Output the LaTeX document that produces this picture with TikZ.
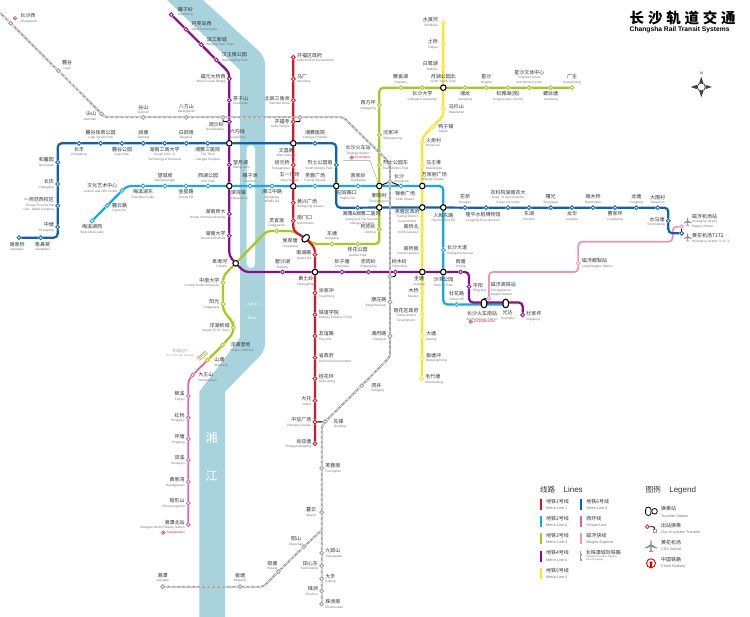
\documentclass[tikz,border=0pt]{standalone}
\usepackage{fontspec}
\setmainfont{Liberation Sans}
\newfontfamily\cjkfont{Noto Sans CJK SC}
\usetikzlibrary{positioning}
\definecolor{lineone}{HTML}{D9142B}
\definecolor{linetwo}{HTML}{14A9E2}
\definecolor{linethree}{HTML}{A6C91A}
\definecolor{linefour}{HTML}{8C0C8C}
\definecolor{linefive}{HTML}{F8E820}
\definecolor{linesix}{HTML}{0C62AE}
\definecolor{linexi}{HTML}{DB6A90}
\definecolor{linemag}{HTML}{EE96B6}
\definecolor{linerail}{HTML}{9C9C9C}
\definecolor{river}{HTML}{A8D3DD}
\definecolor{railred}{HTML}{E0305A}
\definecolor{inktext}{HTML}{333333}
\definecolor{engtext}{HTML}{777777}
\newcommand{\lbl}[2]{{\cjkfont\fontsize{5}{4.5}\selectfont\color{inktext}#1}\\#2}
\newcommand{\leg}[2]{{\cjkfont\fontsize{5}{6.3}\selectfont\color{inktext}#1}\\#2}
\pgfdeclarelayer{water}
\pgfdeclarelayer{tracks}
\pgfsetlayers{water,tracks,main}
\tikzset{
  plane/.pic={\fill[linerail!90!black] (0,-4.2) -- (.5,-3.2) -- (.5,-1) -- (4,1) -- (4,1.7) -- (.5,.7) -- (.4,3) -- (1.5,3.8) -- (1.5,4.2) -- (0,3.8) -- (-1.5,4.2) -- (-1.5,3.8) -- (-.4,3) -- (-.5,.7) -- (-4,1.7) -- (-4,1) -- (-.5,-1) -- (-.5,-3.2) -- cycle;}
}
\begin{document}
\begin{tikzpicture}[
  x=1pt,y=-1pt,
  node distance=1.2pt,
  stop/.style={circle,fill=white,inner sep=0pt,minimum size=3.8pt,line width=.9pt},
  stopone/.style={stop,draw=lineone},
  stoptwo/.style={stop,draw=linetwo},
  stopthree/.style={stop,draw=linethree},
  stopfour/.style={stop,draw=linefour},
  stopfive/.style={stop,draw=linefive},
  stopsix/.style={stop,draw=linesix},
  stopxi/.style={stop,draw=linexi},
  stopmag/.style={stop,draw=linemag},
  stoprail/.style={stop,draw=linerail},
  hub/.style={stop,draw=black,minimum size=5.6pt,line width=1.1pt},
  pill/.style={draw=black,fill=white,line width=1.1pt,rounded corners=2.6pt,inner sep=0pt,minimum width=5.4pt,minimum height=8.4pt},
  tag/.style={inner sep=0pt,text=engtext,font=\rmfamily\fontsize{3.2}{4.5}\selectfont},
  tagr/.style={tag,align=left},
  tagl/.style={tag,align=right},
  tagc/.style={tag,align=center},
  tagleg/.style={tag,align=left,font=\rmfamily\fontsize{3.8}{6.3}\selectfont},
  track/.style={line width=2.2pt,rounded corners=4pt},
  trackone/.style={track,draw=lineone},
  tracktwo/.style={track,draw=linetwo},
  trackthree/.style={track,draw=linethree},
  trackfour/.style={track,draw=linefour},
  trackfive/.style={track,draw=linefive},
  tracksix/.style={track,draw=linesix},
  trackxi/.style={track,line width=1.8pt,draw=linexi},
  trackmag/.style={track,line width=1.8pt,draw=linemag},
  trackrail/.style={draw=linerail,line width=1.9pt,rounded corners=2pt,postaction={draw=white,line width=.6pt,dash pattern=on 3pt off 2pt}},
  link/.style={draw=black,line width=.9pt,rounded corners=1pt},
  railmark/.style={circle,draw=railred,line width=.5pt,fill=white,minimum size=3.6pt,inner sep=0pt,path picture={\fill[railred] (path picture bounding box.center) circle (.7pt);}},
  railtext/.style={inner sep=0pt,font=\rmfamily\fontsize{3.4}{4}\selectfont,text=railred},
  legbar/.style={inner sep=0pt,minimum width=2.2pt,minimum height=11pt},
  headtext/.style={inner sep=0pt,anchor=west,text=inktext,font=\cjkfont\fontsize{7.5}{8}\selectfont}
]
\useasboundingbox (0,0) rectangle (750,617);

% river
\begin{pgfonlayer}{water}
\fill[white] (0,0) rectangle (750,617);
\fill[river] (167,0) -- (240,70) -- (240,338) -- (199.3,391.7) -- (199.3,617) -- (225,617) -- (225,391.7) -- (260,356) .. controls (263,352) and (265,348) .. (265,343) -- (265,65) .. controls (265,55) and (258,50) .. (250,43) -- (203,0) -- cycle;
\fill[white,rounded corners=4pt] (246.7,145) rectangle (255,268);
\end{pgfonlayer}
\node[inner sep=0pt,text=white,font=\cjkfont\fontsize{12}{12}\selectfont] (xiang) at (211.7,438) {湘};
\node[inner sep=0pt,text=white,font=\cjkfont\fontsize{12}{12}\selectfont] (jiang) at (211.7,476) {江};
\node[inner sep=0pt,text=white,font=\rmfamily\fontsize{3.6}{4}\selectfont] (xiangen) at (252,305) {Xiang};
\node[inner sep=0pt,text=white,font=\rmfamily\fontsize{3.6}{4}\selectfont] (jiangen) at (252,318) {River};

% title
\node[anchor=west,inner sep=0pt,font=\cjkfont\bfseries\fontsize{14.5}{15}\selectfont] (title) at (629.5,17.5) {长\hspace{3.8pt}沙\hspace{3.8pt}轨\hspace{3.8pt}道\hspace{3.8pt}交\hspace{3.8pt}通};
\node[anchor=west,inner sep=0pt,font=\rmfamily\bfseries\fontsize{6.7}{7}\selectfont] (titleen) at (629.5,30) {Changsha Rail Transit Systems};

% compass
\node[circle,draw=black,fill=white,line width=.5pt,minimum size=8pt,inner sep=0pt] (compass) at (701.3,87) {};
\fill[black!75] (701.3,76.7) -- (703.4,83) -- (699.2,83) -- cycle;
\fill[black!75] (701.3,97.3) -- (703.4,91) -- (699.2,91) -- cycle;
\fill[black!75] (690.7,87) -- (697,84.9) -- (697,89.1) -- cycle;
\fill[black!75] (712,87) -- (705.6,84.9) -- (705.6,89.1) -- cycle;
\node[inner sep=0pt,font=\rmfamily\fontsize{3.6}{4}\selectfont] (north) at (701.3,73.5) {N};

% line 1
\node[stopone] (kaifuzf) at (293.3,57.3) {};
\node[tagr,right=of kaifuzf] (kaifuzft) {\lbl{开福区政府}{Kaifu District Government}};
\node[stopone] (machang) at (293.3,79) {};
\node[tagr,right=of machang] (machangt) {\lbl{马厂}{Machang}};
\node[stopone] (beichen) at (293.3,100.3) {};
\node[tagl,left=of beichen] (beichent) {\lbl{北辰三角洲}{Beichen Delta}};
\node[stopone] (kaifusi) at (293.3,121.7) {};
\node[tagl,left=of kaifusi,yshift=-2pt] (kaifusit) {\lbl{开福寺}{Kaifu Temple}};
\node[hub] (wenchang) at (293.3,143.3) {};
\node[tagc,below left=2pt and -5pt of wenchang] (wenchangt) {\lbl{文昌阁}{Wenchangge}};
\node[stopone] (peiyuan) at (293.3,165) {};
\node[tagl,left=of peiyuan] (peiyuant) {\lbl{培元桥}{Peiyuanqiao}};
\node[hub] (wuyi) at (293.3,186.3) {};
\node[tagc,above left=2pt and -9pt of wuyi] (wuyit) {\lbl{五一广场}{Wuyi Square}};
\node[stopone] (huangxing) at (293.3,202.7) {};
\node[tagr,right=of huangxing,yshift=-1pt] (huangxingt) {\lbl{黄兴广场}{Huangxing Square}};
\node[stopone] (nanmen) at (293.3,220.7) {};
\node[tagr,right=of nanmen,yshift=1pt] (nanment) {\lbl{南门口}{Nanmenkou}};
\node[pill,rotate=-45] (houjia) at (305.7,238.3) {};
\node[tagc,below left=-1pt and 2pt of houjia] (houjiat) {\lbl{侯家塘}{Houjiatang}};
\coordinate (onea) at (293.3,231);
\coordinate (oneb) at (315,248);
\node[stopone] (nanhu) at (315,254.7) {};
\node[tagl,left=of nanhu] (nanhut) {\lbl{南湖路}{Nanhu Rd}};
\node[hub] (huangtu) at (315,272) {};
\node[tagc,below left=2pt and -2pt of huangtu] (huangtut) {\lbl{黄土岭}{Huangtuling}};
\node[stopone] (tujia) at (315,293) {};
\node[tagr,right=of tujia] (tujiat) {\lbl{涂家冲}{Tujiachong}};
\node[stopone] (tiedao) at (315,314.7) {};
\node[tagr,right=of tiedao] (tiedaot) {\lbl{铁道学院}{Railway Campus (CSU)}};
\node[stopone] (youyi) at (315,336) {};
\node[tagr,right=of youyi] (youyit) {\lbl{友谊路}{Youyi Rd}};
\node[stopone] (shengzf) at (315,357.7) {};
\node[tagr,right=of shengzf] (shengzft) {\lbl{省政府}{Provincial Government}};
\node[stopone] (guihuap) at (315,378.5) {};
\node[tagr,right=of guihuap] (guihuapt) {\lbl{桂花坪}{Guihuaping}};
\node[stopone] (datuo) at (315,400.7) {};
\node[tagl,left=of datuo] (datuot) {\lbl{大托}{Datuo}};
\node[stopone] (zhongxin) at (315,422) {};
\node[tagl,left=of zhongxin] (zhongxint) {\lbl{中信广场}{Zhongxin Square}};
\node[stopone] (shangshuang) at (315,443.7) {};
\node[tagl,left=of shangshuang] (shangshuangt) {\lbl{尚双塘}{Shangshuangtang}};

% line 2
\node[stoptwo] (meixix) at (92,221) {};
\node[tagc,below=of meixix] (meixixt) {\lbl{梅溪湖西}{West Meixi Lake}};
\node[stoptwo] (luyun) at (107,205.7) {};
\node[tagr,right=2.5pt of luyun,yshift=-2pt] (luyunt) {\lbl{麓云路}{Luyun Rd}};
\node[stoptwo] (wenyi) at (122,190.7) {};
\node[tagl,left=2pt of wenyi,yshift=3pt] (wenyit) {\lbl{文化艺术中心}{Culture and Arts Center}};
\coordinate (twoa) at (127,186);
\node[stoptwo] (meixid) at (143,186) {};
\node[tagc,below=of meixid] (meixidt) {\lbl{梅溪湖东}{East Meixi Lake}};
\node[stoptwo] (wangcheng) at (165,186) {};
\node[tagc,above=of wangcheng] (wangchengt) {\lbl{望城坡}{Wangchengpo}};
\node[stoptwo] (jinxing) at (186,186) {};
\node[tagc,below=of jinxing] (jinxingt) {\lbl{金星路}{Jinxing Rd}};
\node[stoptwo] (xihu) at (208,186) {};
\node[tagc,above=of xihu] (xihut) {\lbl{西湖公园}{Xihu Park}};
\node[hub] (yingwan) at (229.3,186) {};
\node[tagc,below right=2pt and -3pt of yingwan] (yingwant) {\lbl{溁湾镇}{Yingwanzhen}};
\node[stoptwo] (juzi) at (250,186) {};
\node[tagc,above=of juzi] (juzit) {\lbl{橘子洲}{Juzizhou}};
\node[stoptwo] (xiangzhong) at (272,186) {};
\node[tagc,below=of xiangzhong] (xiangzhongt) {\lbl{湘江中路}{Xiangjiang\\Middle Rd}};
\node[stoptwo] (furong) at (315,186) {};
\node[tagc,above=of furong] (furongt) {\lbl{芙蓉广场}{Furong Square}};
\node[hub] (yingbin) at (336.3,186) {};
\node[tagc,below right=2pt and -2pt of yingbin] (yingbint) {\lbl{迎宾路口}{Yingbin Rd}};
\node[stoptwo] (yuanjia) at (358,186) {};
\node[tagc,above=of yuanjia] (yuanjiat) {\lbl{袁家岭}{Yuanjialing}};
\node[hub] (railst) at (379.3,186) {};
\node[tagc] (railstt) at (358,150) {\lbl{长沙火车站}{Railway Station}};
\node[railmark] (railstm) at (351.7,157.5) {};
\node[railtext,right=1pt of railstm] (railstn) {Changsha};
\coordinate (leadera) at (343.3,160.7);
\coordinate (leaderb) at (370,160.7);
\node[stoptwo] (jintai) at (401,186) {};
\node[tagc,below=3pt of jintai,xshift=4pt] (jintait) {\lbl{锦泰广场}{Jintai Square}};
\node[hub] (wanjia) at (422.3,186) {};
\node[tagr,above right=2pt and -3pt of wanjia] (wanjiat) {\lbl{万家丽广场}{Wanjiali Square}};
\coordinate (twob) at (443.3,186);
\node[hub] (renmin) at (443.3,207.5) {};
\node[tagc,below=2pt of renmin] (renmint) {\lbl{人民东路}{Renmin East Rd}};
\node[stoptwo] (csdadao) at (443.3,250) {};
\node[tagr,right=of csdadao] (csdadaot) {\lbl{长沙大道}{Changsha Avenue}};
\node[hub] (shawan) at (443.3,272) {};
\node[tagc,below=2pt of shawan] (shawant) {\lbl{沙湾公园}{Shawan Park}};
\coordinate (twoc) at (443.3,304.5);
\node[stoptwo] (duhua) at (456.7,304.5) {};
\node[tagc,above=1.5pt of duhua] (duhuat) {\lbl{杜花路}{Duhua Rd}};
\node[pill] (changnan) at (484,303.5) {};
\node[tagc,below=3pt of changnan,xshift=-2pt] (changnant) {\lbl{长沙火车南站}{South Railway Station}};
\node[railmark] (changnanm) at (470.7,321.7) {};
\node[railtext,right=1pt of changnanm] (changnann) {Changshanan};
\node[pill] (guangda) at (505.7,303.5) {};
\node[tagc,below=2pt of guangda,xshift=2pt] (guangdat) {\lbl{光达}{Guangda}};

% line 3
\node[stopthree] (shantang) at (207.7,360) {};
\node[tagr,right=4pt of shantang,yshift=-2pt] (shantangt) {\lbl{山塘}{Shantang}};
\node[stopthree] (yanghusd) at (222.7,345) {};
\node[tagr,right=5pt of yanghusd,yshift=-2pt] (yanghusdt) {\lbl{洋湖湿地}{Yanghu Wetland}};
\coordinate (threea) at (233.3,333);
\node[stopthree] (yanghuxc) at (233.3,327.7) {};
\node[tagl,left=of yanghuxc] (yanghuxct) {\lbl{洋湖新城}{Yanghu ECO. Town}};
\coordinate (threeb) at (233.3,323.3);
\coordinate (threec) at (223,310);
\node[stopthree] (yangguang) at (223,304) {};
\node[tagl,left=of yangguang] (yangguangt) {\lbl{阳光}{Yangguang}};
\node[stopthree] (zhongnan) at (223,282.7) {};
\node[tagl,left=of zhongnan] (zhongnant) {\lbl{中南大学}{Central South University}};
\coordinate (threed) at (223.3,276);
\node[hub] (fubu) at (235.7,263.3) {};
\node[tagl,left=5pt of fubu] (fubut) {\lbl{阜埠河}{Fubuhe}};
\coordinate (threee) at (266.7,231);
\node[stopthree] (lingguan) at (276.7,231) {};
\node[tagc,above=of lingguan] (lingguant) {\lbl{灵官渡}{Lingguandu}};
\coordinate (threef) at (313,244);
\node[stopthree] (dongtang) at (332,244) {};
\node[tagc,above=of dongtang] (dongtangt) {\lbl{东塘}{Dongtang}};
\node[stopthree] (guihuagy) at (357.7,244) {};
\node[tagc,below=of guihuagy] (guihuagyt) {\lbl{桂花公园}{Guihua Park}};
\coordinate (threeg) at (379.3,244);
\node[stopthree] (amiling) at (379.3,229.3) {};
\node[tagl,left=of amiling] (amilingt) {\lbl{阿弥岭}{Amiling}};
\node[hub] (chaoyang) at (379.3,207.5) {};
\node[tagc,above=of chaoyang] (chaoyangt) {\lbl{朝阳村}{Chaoyangcun}};
\node[stopthree] (liedong) at (379.3,165) {};
\node[tagr,right=of liedong] (liedongt) {\lbl{烈士公园东}{East Martyrs Park}};
\node[stopthree] (shenjia) at (379.3,135) {};
\node[tagr,right=of shenjia] (shenjiat) {\lbl{沈家冲}{Shenjiachong}};
\node[stopthree] (xifang) at (379.3,105) {};
\node[tagl,left=of xifang] (xifangt) {\lbl{西方坪}{Xifangping}};
\coordinate (threeh) at (379.3,87.7);
\node[stopthree] (yaque) at (400.7,87.7) {};
\node[tagc,above=of yaque] (yaquet) {\lbl{雅雀湖}{Yaquehu}};
\node[stopthree] (csdaxue) at (422.3,87.7) {};
\node[tagc,below=of csdaxue] (csdaxuet) {\lbl{长沙大学}{Changsha University}};
\node[hub] (yuehu) at (443.3,87.7) {};
\node[tagc,above=of yuehu] (yuehut) {\lbl{月湖公园北}{North Yuehu Park}};
\node[stopthree] (xianglong) at (465,87.7) {};
\node[tagc,below=of xianglong] (xianglongt) {\lbl{湘龙}{Xianglong}};
\node[stopthree] (xingsha) at (486.3,87.7) {};
\node[tagc,above=of xingsha] (xingshat) {\lbl{星沙}{Xingsha}};
\node[stopthree] (songya) at (508,87.7) {};
\node[tagc,below=of songya] (songyat) {\lbl{松雅湖(南)}{Songya Lake (South)}};
\node[stopthree] (xingshawt) at (529.3,87.7) {};
\node[tagc,above=of xingshawt] (xingshawtt) {\lbl{星沙文体中心}{Xingsha Culture\\and Sports Center}};
\node[stopthree] (luosi) at (550.7,87.7) {};
\node[tagc,below=of luosi] (luosit) {\lbl{螺丝塘}{Luositang}};
\node[stopthree] (guangsheng) at (572,87.7) {};
\node[tagc,above=of guangsheng] (guangshengt) {\lbl{广生}{Guangsheng}};

% line 4
\node[stopfour] (guanzi) at (171.3,14.7) {};
\node[tagr,right=4pt of guanzi,yshift=3pt] (guanzit) {\lbl{罐子岭}{Guanziling}};
\node[stopfour] (yueliang) at (186,29.3) {};
\node[tagr,right=3pt of yueliang,yshift=3pt] (yueliangt) {\lbl{月亮岛西}{West Yueliangdao}};
\node[stopfour] (binjiang) at (201.3,44.7) {};
\node[tagr,right=3pt of binjiang,yshift=3pt] (binjiangt) {\lbl{滨江新城}{Binjiang New Town}};
\node[stopfour] (hanwang) at (216.3,60) {};
\node[tagr,right=3pt of hanwang,yshift=3pt] (hanwangt) {\lbl{汉王陵公园}{Hanwangling Park}};
\coordinate (foura) at (229.3,72.7);
\node[stopfour] (fuyuan) at (229.3,78.7) {};
\node[tagl,left=of fuyuan] (fuyuant) {\lbl{福元大桥西}{West Fuyuan Bridge}};
\node[stopfour] (chazi) at (229.3,100.3) {};
\node[tagr,right=of chazi] (chazit) {\lbl{茶子山}{Chazishan}};
\node[stopfour] (guansha) at (229.3,121.7) {};
\node[tagl,left=3pt of guansha,yshift=-5pt] (guanshat) {\lbl{观沙岭}{Guanshaling}};
\node[hub] (liugou) at (229.3,143.3) {};
\node[tagr,above right=2pt and -2pt of liugou] (liugout) {\lbl{六沟垅}{Liugoulong}};
\node[stopfour] (wangyue) at (229.3,164.7) {};
\node[tagr,right=of wangyue] (wangyuet) {\lbl{望月湖}{Wangyuehu}};
\node[stopfour] (hunansd) at (229.3,214) {};
\node[tagl,left=of hunansd] (hunansdt) {\lbl{湖南师大}{Hunan Normal University}};
\node[stopfour] (hunandx) at (229.3,235.7) {};
\node[tagl,left=of hunandx] (hunandxt) {\lbl{湖南大学}{Hunan University}};
\coordinate (fourb) at (229.3,256);
\coordinate (fourc) at (244.5,272);
\node[stopfour] (bisha) at (282.7,272) {};
\node[tagc,above=of bisha] (bishat) {\lbl{碧沙湖}{Bishahu}};
\node[stopfour] (shazi) at (342,272) {};
\node[tagc,above=of shazi] (shazit) {\lbl{砂子塘}{Shazitang}};
\node[stopfour] (chigang) at (368.3,272) {};
\node[tagc,above=of chigang] (chigangt) {\lbl{赤岗岭}{Chigangling}};
\node[stopfour] (shumu) at (395.3,272) {};
\node[tagc,above=of shumu,xshift=4pt] (shumut) {\lbl{树木岭}{Shumuling}};
\node[hub] (guitang) at (422.3,272) {};
\node[tagc,below left=2pt and -5pt of guitang] (guitangt) {\lbl{圭塘}{Guitang}};
\node[stopfour] (yutang) at (460.7,272) {};
\node[tagc,above=of yutang] (yutangt) {\lbl{雨塘}{Yutang}};
\coordinate (fourd) at (469,272);
\node[stopfour] (pingyang) at (469,286.7) {};
\node[tagr,right=of pingyang,yshift=-1pt] (pingyangt) {\lbl{平阳}{Pingyang}};
\coordinate (foure) at (469,302.5);
\coordinate (fourf) at (522.7,302.5);
\node[stopfour] (dujia) at (522.7,315) {};
\node[tagr,right=of dujia,yshift=-1pt] (dujiat) {\lbl{杜家坪}{Dujiaping}};

% line 5
\node[stopfive] (shuidu) at (443.3,22.7) {};
\node[tagl,left=3pt of shuidu,yshift=1pt] (shuidut) {\lbl{水渡河}{Shuiduhe}};
\node[stopfive] (tuqiao) at (443.3,44.3) {};
\node[tagl,left=3pt of tuqiao] (tuqiaot) {\lbl{土桥}{Tuqiao}};
\node[stopfive] (bailu) at (443.3,65.7) {};
\node[tagl,left=3pt of bailu] (bailut) {\lbl{白鹭湖}{Bailuhu}};
\node[stopfive] (malan) at (443.3,109) {};
\node[tagr,right=3pt of malan] (malant) {\lbl{马栏山}{Malanshan}};
\coordinate (fivea) at (443.3,116);
\node[stopfive] (yazi) at (432.7,126.7) {};
\node[tagr,right=3pt of yazi,yshift=-2pt] (yazit) {\lbl{鸭子铺}{Yazipu}};
\coordinate (fiveb) at (422.3,137.3);
\node[stopfive] (huoju) at (422.3,142.7) {};
\node[tagr,right=of huoju] (huojut) {\lbl{火炬村}{Huojucun}};
\node[stopfive] (mawang) at (422.3,165) {};
\node[tagr,right=of mawang] (mawangt) {\lbl{马王堆}{Mawangdui}};
\node[hub] (furongq) at (422.3,207.5) {};
\node[tagc,anchor=north east] (furongqt) at (420,209) {\lbl{芙蓉区政府}{Furong District\\Government}};
\node[stopfive] (gaoqiaob) at (422.3,229.3) {};
\node[tagl,left=of gaoqiaob] (gaoqiaobt) {\lbl{高桥北}{North Gaoqiao}};
\node[stopfive] (gaoqiaon) at (422.3,250.7) {};
\node[tagl,left=of gaoqiaon] (gaoqiaont) {\lbl{高桥南}{South Gaoqiao}};
\node[stopfive] (muqiao) at (422.3,293) {};
\node[tagl,left=of muqiao] (muqiaot) {\lbl{木桥}{Muqiao}};
\node[stopfive] (yuhua) at (422.3,314.7) {};
\node[tagc,left=of yuhua] (yuhuat) {\lbl{雨花区政府}{Yuhua District\\Government}};
\node[stopfive] (datang) at (422.3,336) {};
\node[tagr,right=of datang] (datangt) {\lbl{大塘}{Datang}};
\node[stopfive] (bantangc) at (422.3,357.7) {};
\node[tagr,right=of bantangc] (bantangct) {\lbl{板塘冲}{Bantangchong}};
\node[stopfive] (maozhu) at (421.7,379) {};
\node[tagr,right=of maozhu] (maozhut) {\lbl{毛竹塘}{Maozhutang}};

% line 6
\node[stopsix] (xiejia) at (19,237.7) {};
\node[tagc,below=2pt of xiejia,xshift=-2pt] (xiejiat) {\lbl{谢家桥}{Xiejiaqiao}};
\node[stopsix] (xiangbi) at (40.7,237.7) {};
\node[tagc,below=2pt of xiangbi,xshift=2pt] (xiangbit) {\lbl{象鼻窝}{Xiangbiwo}};
\coordinate (sixa) at (57.7,237.7);
\node[stopsix] (zhongtang) at (57.7,227) {};
\node[tagl,left=of zhongtang] (zhongtangt) {\lbl{中塘}{Zhongtang}};
\node[stopsix] (yishi) at (57.7,205.7) {};
\node[tagl,left=of yishi,yshift=1pt] (yishit) {\lbl{一师范西校区}{Hunan First Normal\\Univ. (West Campus)}};
\node[stopsix] (changqing) at (57.7,184) {};
\node[tagl,left=of changqing] (changqingt) {\lbl{长庆}{Changqing}};
\node[stopsix] (hexin) at (57.7,162.3) {};
\node[tagl,left=of hexin] (hexint) {\lbl{和馨园}{Hexinyuan}};
\coordinate (sixb) at (57.7,143.3);
\node[stopsix] (changfeng) at (79,143.3) {};
\node[tagc,below=of changfeng] (changfengt) {\lbl{长丰}{Changfeng}};
\node[stopsix] (luguty) at (100.7,143.3) {};
\node[tagc,above=of luguty] (lugutyt) {\lbl{麓谷体育公园}{Lugu Sports Park}};
\node[stopsix] (lugugy) at (122,143.3) {};
\node[tagc,below=of lugugy] (lugugyt) {\lbl{麓谷公园}{Lugu Park}};
\node[stopsix] (jiantang) at (143.3,143.3) {};
\node[tagc,above=of jiantang] (jiantangt) {\lbl{涧塘}{Jiantang}};
\node[stopsix] (gongshang) at (164.7,143.3) {};
\node[tagc,below=of gongshang] (gongshangt) {\lbl{湖南工商大学}{Hunan Univ. of\\Technology \& Business}};
\node[stopsix] (baige) at (186.3,143.3) {};
\node[tagc,above=of baige] (baiget) {\lbl{白鸽咀}{Baigezui}};
\node[stopsix] (xiangsan) at (207.7,143.3) {};
\node[tagc,below=of xiangsan] (xiangsant) {\lbl{湘雅三医院}{The Third\\Xiangya Hospital}};
\node[stopsix] (xiangya) at (315,143.3) {};
\node[tagc,above=of xiangya] (xiangyat) {\lbl{湘雅医院}{Xiangya Hospital}};
\coordinate (sixc) at (336.3,143.3);
\node[stopsix] (lienan) at (336.3,165) {};
\node[tagl,left=of lienan] (lienant) {\lbl{烈士公园南}{South Martyrs Park}};
\coordinate (sixd) at (336.3,207.7);
\node[stopsix] (xiangyaer) at (357.7,207.7) {};
\node[tagc,below=of xiangyaer,xshift=4pt] (xiangyaert) {\lbl{湘雅\&湘雅二医院}{Xiangya \& The Second\\Xiangya Hospital}};
\node[stopsix] (huaqiao) at (465,207.7) {};
\node[tagc,above=of huaqiao] (huaqiaot) {\lbl{花桥}{Huaqiao}};
\node[stopsix] (longping) at (486,207.7) {};
\node[tagc,below=of longping,xshift=-3pt,yshift=-1pt] (longpingt) {\lbl{隆平水稻博物馆}{Longping Rice Museum}};
\node[stopsix] (nongke) at (508,207.7) {};
\node[tagc,above=of nongke] (nongket) {\lbl{农科院湖南农大}{Acad. of Agri-sciences\\\& Agri-university}};
\node[stopsix] (donghu) at (529,207.7) {};
\node[tagc,below=of donghu] (donghut) {\lbl{东湖}{Donghu}};
\node[stopsix] (shuguang) at (550.7,207.7) {};
\node[tagc,above=of shuguang] (shuguangt) {\lbl{曙光}{Shuguang}};
\node[stopsix] (longhua) at (572,207.7) {};
\node[tagc,below=of longhua] (longhuat) {\lbl{龙华}{Longhua}};
\node[stopsix] (nanmu) at (593,207.7) {};
\node[tagc,above=of nanmu] (nanmut) {\lbl{楠木桥}{Nanmuqiao}};
\node[stopsix] (caojia) at (615,207.7) {};
\node[tagc,below=of caojia] (caojiat) {\lbl{曹家坪}{Caojiaping}};
\node[stopsix] (longtang) at (636.3,207.7) {};
\node[tagc,above=of longtang] (longtangt) {\lbl{龙塘}{Longtang}};
\node[stopsix] (dawei) at (657.7,207.7) {};
\node[tagc,above=of dawei] (daweit) {\lbl{大围村}{Daweicun}};
\coordinate (sixe) at (668.3,207.7);
\node[stopsix] (shuima) at (668.3,220.7) {};
\node[tagl,left=of shuima,yshift=-1pt] (shuimat) {\lbl{水马塘}{Shuimatang}};
\coordinate (sixf) at (668.3,233.3);
\node[stoptwo,draw=linesix] (huanghua) at (681.7,233.3) {};
\node[tagr,anchor=west] (huanghuat) at (692,238.3) {\lbl{黄花机场T1T2}{Huanghua Airport T1 \& T2}};
\pic at (687.7,237.3) {plane};

% maglev
\node[stopmag] (magair) at (681.7,226.7) {};
\node[tagr,anchor=west] (magairt) at (692,221) {\lbl{磁浮机场站}{Huanghua Airport\\Maglev Station}};
\pic at (687.7,221.7) {plane};
\node[stopmag] (langli) at (578.3,263.3) {};
\node[tagr,right=of langli] (langlit) {\lbl{磁浮榔梨站}{Langli Maglev Station}};
\node[stopmag] (maggt) at (489,298.3) {};
\node[tagr,anchor=west] (maggtt) at (490.7,289.5) {\lbl{磁浮高铁站}{Changshanan\\Maglev Station}};
\coordinate (maga) at (672.7,226.7);
\coordinate (magb) at (672.7,241.7);
\coordinate (magc) at (578.3,241.7);
\coordinate (magd) at (578.3,272);
\coordinate (mage) at (489,272);

% xihuan line
\node[stopxi] (dawang) at (192.7,375) {};
\node[tagr,right=3pt of dawang,yshift=-2pt] (dawangt) {\lbl{大王山}{Dawangshan}};
\coordinate (xia) at (188.3,380);
\node[stopxi] (fengxi) at (188.3,396) {};
\node[tagl,left=of fengxi] (fengxit) {\lbl{枫溪}{Fengxi}};
\node[stopxi] (hongqiao) at (188.3,417.7) {};
\node[tagl,left=of hongqiao] (hongqiaot) {\lbl{红桥}{Hongqiao}};
\node[stopxi] (pingtang) at (188.3,439) {};
\node[tagl,left=of pingtang] (pingtangt) {\lbl{坪塘}{Pingtang}};
\node[stopxi] (shuangxi) at (188.3,460.3) {};
\node[tagl,left=of shuangxi] (shuangxit) {\lbl{双溪}{Shuangxi}};
\node[stopxi] (huangjia) at (188.3,482) {};
\node[tagl,left=of huangjia] (huangjiat) {\lbl{黄家湾}{Huangjiawan}};
\node[stopxi] (chuanxing) at (188.3,503.3) {};
\node[tagl,left=of chuanxing] (chuanxingt) {\lbl{船形山}{Chuanxingshan}};
\node[stopxi] (xiangbei) at (188.3,524.7) {};
\node[tagl,left=of xiangbei] (xiangbeit) {\lbl{湘潭北站}{Xiangtan North Railway Station}};
\node[railmark] (xiangbeim) at (163.3,532.7) {};
\node[railtext,right=1pt of xiangbeim] (xiangbein) {Xiangtanbei};
\node[inner sep=0pt,align=center,text=gray!70,font=\rmfamily\fontsize{3}{4}\selectfont] (through) at (180,353) {{\cjkfont\fontsize{4}{4}\selectfont 贯通运行}\\Thru-through Service};
\draw[linexi,line width=.6pt] (196.7,358.5) -- (205.5,351);
\draw[linethree,line width=.6pt] (198,359.5) -- (207,352);
\draw[linethree,line width=.6pt] (199.5,360.5) -- (208,353.5);

% intercity rail
\coordinate (raila) at (0,12.7);
\node[stoprail] (changshaxi) at (10.7,23.3) {};
\node[railmark] (changshaxim) at (15,18.3) {};
\node[tagr,right=3pt of changshaxim] (changshaxit) {\lbl{长沙西}{Changshaxi}};
\node[stoprail] (lugu) at (58.3,70.7) {};
\node[tagc,above right=-1pt and 2pt of lugu] (lugut) {\lbl{麓谷}{Lugu}};
\node[stoprail] (jianshan) at (101.7,114) {};
\node[tagl,left=3pt of jianshan,yshift=-2pt] (jianshant) {\lbl{尖山}{Jianshan}};
\coordinate (railb) at (105,117.3);
\node[stoprail] (gushan) at (143.3,117.3) {};
\node[tagc,above=of gushan] (gushant) {\lbl{谷山}{Gushan}};
\node[stoprail] (bafang) at (186.3,117.3) {};
\node[tagc,above=of bafang] (bafangt) {\lbl{八方山}{Bafangshan}};
\node[stoprail] (railguan) at (223,117.3) {};
\node[stoprail] (railkai) at (300,117.3) {};
\coordinate (railc) at (343.3,117.3);
\coordinate (raild) at (387,160);
\coordinate (raile) at (390,165);
\node[stoprail] (changsha) at (390,181.7) {};
\node[tagr,right=1.5pt of changsha,yshift=3pt] (changshat) {\lbl{长沙}{Changsha}};
\node[stoprail] (railshu) at (390,276.7) {};
\node[stoprail] (kangzhuang) at (390,302) {};
\node[tagl,left=of kangzhuang] (kangzhuangt) {\lbl{康庄路}{Kangzhuanglu}};
\node[stoprail] (xiangfu) at (390,336) {};
\node[tagl,left=of xiangfu] (xiangfut) {\lbl{湘府路}{Xiangfulu}};
\coordinate (railf) at (390,356.7);
\node[stoprail] (dongjing) at (361.7,385.7) {};
\node[tagr,right=7pt of dongjing,yshift=-2pt] (dongjingt) {\lbl{洞井}{Dongjing}};
\node[stoprail] (xianfeng) at (325,421.7) {};
\node[tagr,right=6pt of xianfeng,yshift=-2pt] (xianfengt) {\lbl{先锋}{Xianfeng}};
\coordinate (railg) at (321.7,426.7);
\node[stoprail] (furongnan) at (321.7,468.3) {};
\node[tagr,right=of furongnan] (furongnant) {\lbl{芙蓉南}{Furongnan}};
\node[stoprail] (muyun) at (321.7,512.3) {};
\node[tagl,left=3pt of muyun] (muyunt) {\lbl{暮云}{Muyun}};
\coordinate (railh) at (321.7,530);
\node[stoprail] (jiulang) at (321.7,553) {};
\node[tagr,right=of jiulang] (jiulangt) {\lbl{九郎山}{Jiulangshan}};
\node[stoprail] (tianxin) at (321.7,565.7) {};
\node[tagl,left=of tianxin] (tianxint) {\lbl{田心东}{Tianxindong}};
\node[stoprail] (dafeng) at (321.7,578.7) {};
\node[tagr,right=of dafeng] (dafengt) {\lbl{大丰}{Dafeng}};
\node[stoprail] (zhuzhou) at (321.7,591) {};
\node[tagl,left=of zhuzhou] (zhuzhout) {\lbl{株洲}{Zhuzhou}};
\node[stoprail] (zhuzhounan) at (321.7,604) {};
\node[tagr,right=of zhuzhounan] (zhuzhounant) {\lbl{株洲南}{Zhuzhounan}};
\node[stoprail] (zhaoshan) at (304,546.7) {};
\node[tagc,above left=-.5pt and -1pt of zhaoshan] (zhaoshant) {\lbl{昭山}{Zhaoshan}};
\node[stoprail] (hetang) at (278.3,571.7) {};
\node[tagc,above left=-.5pt and -1pt of hetang] (hetangt) {\lbl{荷塘}{Hetang}};
\coordinate (raili) at (263.3,586.7);
\node[stoprail] (bantang) at (240,586.7) {};
\node[tagc,above=1.5pt of bantang] (bantangt) {\lbl{板塘}{Bantang}};
\node[stoprail] (xiangtan) at (162.7,586.7) {};
\node[tagc,above=1.5pt of xiangtan] (xiangtant) {\lbl{湘潭}{Xiangtan}};

% tracks
\begin{pgfonlayer}{tracks}
\draw[trackmag] (magair) -- (maga) -- (magb) -- (magc) -- (langli) -- (magd) -- (mage) -- (maggt);
\draw[trackxi] (shantang) -- (dawang) -- (xia) -- (fengxi) -- (hongqiao) -- (pingtang) -- (shuangxi) -- (huangjia) -- (chuanxing) -- (xiangbei);
\draw[trackfive] (shuidu) -- (tuqiao) -- (bailu) -- (yuehu) -- (malan) -- (fivea) -- (yazi) -- (fiveb) -- (huoju) -- (mawang) -- (wanjia) -- (furongq) -- (gaoqiaob) -- (gaoqiaon) -- (guitang) -- (muqiao) -- (yuhua) -- (datang) -- (bantangc) -- (maozhu);
\draw[tracksix] (xiejia) -- (xiangbi) -- (sixa) -- (zhongtang) -- (yishi) -- (changqing) -- (hexin) -- (sixb) -- (changfeng) -- (luguty) -- (lugugy) -- (jiantang) -- (gongshang) -- (baige) -- (xiangsan) -- (liugou) -- (wenchang) -- (xiangya) -- (sixc) -- (lienan) -- (yingbin) -- (sixd) -- (xiangyaer) -- (chaoyang) -- (furongq) -- (renmin) -- (huaqiao) -- (longping) -- (nongke) -- (donghu) -- (shuguang) -- (longhua) -- (nanmu) -- (caojia) -- (longtang) -- (dawei) -- (sixe) -- (shuima) -- (sixf) -- (huanghua);
\draw[tracktwo] (meixix) -- (luyun) -- (wenyi) -- (twoa) -- (meixid) -- (wangcheng) -- (jinxing) -- (xihu) -- (yingwan) -- (juzi) -- (xiangzhong) -- (wuyi) -- (furong) -- (yingbin) -- (yuanjia) -- (railst) -- (jintai) -- (wanjia) -- (twob) -- (renmin) -- (csdadao) -- (shawan) -- (twoc) -- (duhua) -- ([yshift=-1pt]changnan.center) -- ([yshift=-1pt]guangda.center);
\draw[trackthree] (shantang) -- (yanghusd) -- (threea) -- (yanghuxc) -- (threeb) -- (threec) -- (yangguang) -- (zhongnan) -- (threed) -- (fubu) -- (threee) -- (lingguan) -- (onea) -- (houjia) -- (threef) -- (dongtang) -- (guihuagy) -- (threeg) -- (amiling) -- (chaoyang) -- (railst) -- (liedong) -- (shenjia) -- (xifang) -- (threeh) -- (yaque) -- (csdaxue) -- (yuehu) -- (xianglong) -- (xingsha) -- (songya) -- (xingshawt) -- (luosi) -- (guangsheng);
\draw[trackone] (kaifuzf) -- (machang) -- (beichen) -- (kaifusi) -- (wenchang) -- (peiyuan) -- (wuyi) -- (huangxing) -- (nanmen) -- (onea) -- (houjia) -- (oneb) -- (nanhu) -- (huangtu) -- (tujia) -- (tiedao) -- (youyi) -- (shengzf) -- (guihuap) -- (datuo) -- (zhongxin) -- (shangshuang);
\draw[trackfour] (guanzi) -- (yueliang) -- (binjiang) -- (hanwang) -- (foura) -- (fuyuan) -- (chazi) -- (guansha) -- (liugou) -- (wangyue) -- (yingwan) -- (hunansd) -- (hunandx) -- (fourb) -- (fubu) -- (fourc) -- (bisha) -- (huangtu) -- (shazi) -- (chigang) -- (shumu) -- (guitang) -- (shawan) -- (yutang) -- (fourd) -- (pingyang) -- (foure) -- ([yshift=1pt]changnan.center) -- ([yshift=1pt]guangda.center) -- (fourf) -- (dujia);
\draw[trackrail] (raila) -- (changshaxi) -- (lugu) -- (jianshan) -- (railb) -- (gushan) -- (bafang) -- (railguan) -- (railkai) -- (railc) -- (raild) -- (raile) -- (changsha) -- (railshu) -- (kangzhuang) -- (xiangfu) -- (railf) -- (dongjing) -- (xianfeng) -- (railg) -- (furongnan) -- (muyun) -- (railh) -- (jiulang) -- (tianxin) -- (dafeng) -- (zhuzhou) -- (zhuzhounan);
\draw[trackrail] (railh) -- (zhaoshan) -- (hetang) -- (raili) -- (bantang) -- (xiangtan);
% out-of-system links
\draw[link] (railguan) |- (guansha);
\draw[link] (railkai) |- (kaifusi);
\draw[link] (railshu) -| (shumu);
\draw[link] (changsha) -- (railst);
\draw[link] (changsha) -- (jintai);
\draw[link] (magair) -- (huanghua);
\draw[link] (changnan) |- (maggt);
\draw[link,draw=black!70,line width=1.4pt] (zhongxin) -- (xianfeng);
\draw[linerail,line width=.4pt] (leadera) -- (leaderb) -- (railst);
\end{pgfonlayer}

% legend, lines
\node[headtext] (linesh) at (540,490) {线路};
\node[headtext,right=8pt of linesh,font=\rmfamily\fontsize{8}{8}\selectfont] (linesen) {Lines};
\node[legbar,fill=lineone] (barone) at (540.7,504.3) {};
\node[tagleg,right=4pt of barone] (baronet) {\leg{地铁1号线}{Metro Line 1}};
\node[legbar,fill=linetwo] (bartwo) at (540.7,521.7) {};
\node[tagleg,right=4pt of bartwo] (bartwot) {\leg{地铁2号线}{Metro Line 2}};
\node[legbar,fill=linethree] (barthree) at (540.7,538.7) {};
\node[tagleg,right=4pt of barthree] (barthreet) {\leg{地铁3号线}{Metro Line 3}};
\node[legbar,fill=linefour] (barfour) at (540.7,556) {};
\node[tagleg,right=4pt of barfour] (barfourt) {\leg{地铁4号线}{Metro Line 4}};
\node[legbar,fill=linefive] (barfive) at (540.7,573.3) {};
\node[tagleg,right=4pt of barfive] (barfivet) {\leg{地铁5号线}{Metro Line 5}};
\node[legbar,fill=linesix] (barsix) at (581.3,504.3) {};
\node[tagleg,right=3.5pt of barsix] (barsixt) {\leg{地铁6号线}{Metro Line 6}};
\node[legbar,fill=linexi] (barxi) at (581.3,521.7) {};
\node[tagleg,right=3.5pt of barxi] (barxit) {\leg{西环线}{Xihuan Line}};
\node[legbar,fill=linemag] (barmag) at (581.3,538.7) {};
\node[tagleg,right=3.5pt of barmag] (barmagt) {\leg{磁浮快线}{Maglev Express}};
\coordinate (barraila) at (581.3,551);
\coordinate (barrailb) at (581.3,561);
\draw[trackrail] (barraila) -- (barrailb);
\node[tagr,anchor=west,font=\rmfamily\fontsize{2.4}{3.2}\selectfont] (barrailt) at (585.7,555.5) {\lbl{长株潭城际铁路}{Changsha-Zhuzhou-Xiangtan\\Intercity Railway}};

% legend, symbols
\node[headtext] (legendh) at (645.7,490) {图例};
\node[headtext,right=8pt of legendh,font=\rmfamily\fontsize{8}{8}\selectfont] (legenden) {Legend};
\node[pill,line width=.8pt] (legpill) at (648.3,511.3) {};
\node[hub,line width=.8pt] (leghub) at (654.5,511.3) {};
\node[tagleg,anchor=west] (leghubt) at (661,511.8) {\leg{换乘站}{Transfer Station}};
\node[stop,draw=railred] (legout) at (647.3,526.7) {};
\node[draw=linerail,fill=white,inner sep=0pt,minimum size=3pt,line width=.5pt] (legoutb) at (654.3,530.5) {};
\draw[link] (legout) -| (legoutb);
\node[tagleg,anchor=west] (legoutt) at (661,528.6) {\leg{出站换乘}{Out-of-system Transfer}};
\pic[scale=1.45] at (651,546) {plane};
\node[tagleg,anchor=west] (legairt) at (661,545.8) {\leg{黄花机场}{CSX Airport}};
\node[circle,draw=red!85!black,line width=.9pt,fill=white,minimum size=9pt,inner sep=0pt] (legrail) at (651,563.3) {};
\fill[red!85!black] (649.3,561.5) -- (652.7,561.5) -- (651.8,565) -- (651.8,568) -- (650.2,568) -- (650.2,565) -- cycle;
\node[tagleg,anchor=west] (legrailt) at (661,563) {\leg{中国铁路}{China Railway}};
\end{tikzpicture}
\end{document}
